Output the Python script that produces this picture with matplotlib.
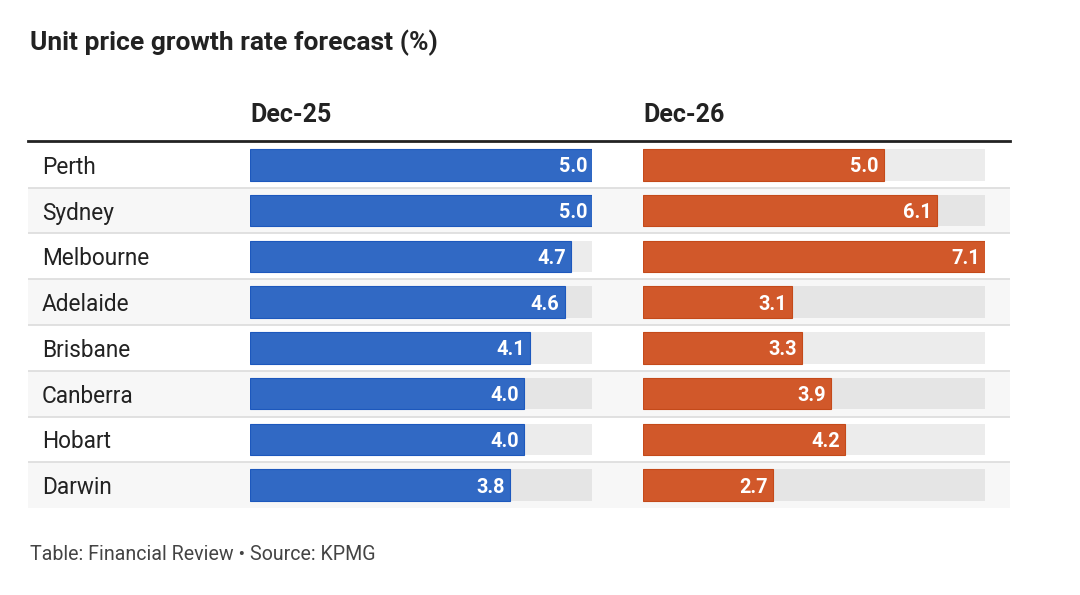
import matplotlib
matplotlib.use("Agg")
import matplotlib.pyplot as plt
from matplotlib.lines import Line2D

# ---- data ----
cities = ["Perth", "Sydney", "Melbourne", "Adelaide", "Brisbane", "Canberra", "Hobart", "Darwin"]
dec25 = [5.0, 5.0, 4.7, 4.6, 4.1, 4.0, 4.0, 3.8]
dec26 = [5.0, 6.1, 7.1, 3.1, 3.3, 3.9, 4.2, 2.7]
columns = ["Dec-25", "Dec-26"]
title = "Unit price growth rate forecast (%)"
footer = "Table: Financial Review \u2022 Source: KPMG"

plt.rcParams['font.family'] = ['Roboto', 'DejaVu Sans']

W, H = 1080, 595
fig = plt.figure(figsize=(W / 100, H / 100), dpi=100)
fig.patch.set_facecolor('white')


def rect(x0, y0, x1, y1):
    return [x0 / W, 1 - y1 / H, (x1 - x0) / W, (y1 - y0) / H]


top, bot = 142, 508
n = len(cities)
ys = list(range(n))
row_bg = ['white' if i % 2 == 0 else '#f7f7f7' for i in ys]
track_bg = ['#ececec' if i % 2 == 0 else '#e5e5e5' for i in ys]

# background rows
bg = fig.add_axes(rect(28, top, 1010, bot))
bg.set_xlim(0, 1)
bg.set_ylim(n - 0.5, -0.5)
bg.barh(ys, [1] * n, height=1.0, left=0, color=row_bg)
for i in range(1, n):
    bg.axhline(i - 0.5, color='#dcdcdc', lw=1.2)
bg.axis('off')
for i, c in enumerate(cities):
    bg.text(14 / 982, i, c, ha='left', va='center_baseline', fontsize=16.3, color='#222222')

# header rule
fig.add_artist(Line2D([28 / W, 1010 / W], [1 - 141 / H, 1 - 141 / H],
                      color='#222222', lw=2.0, transform=fig.transFigure))

specs = [
    (dec25, 250, '#3169c4', '#1d58bd', columns[0]),
    (dec26, 643, '#d1582a', '#c44a1a', columns[1]),
]
for vals, x0, color, edge, hdr in specs:
    ax = fig.add_axes(rect(x0, top, x0 + 342, bot))
    vmax = max(vals)
    ax.set_xlim(0, vmax)
    ax.set_ylim(n - 0.5, -0.5)
    ax.barh(ys, [vmax] * n, height=0.69, color=track_bg)
    ax.barh(ys, vals, height=0.69, color=color, edgecolor=edge, lw=0.8)
    pad = vmax * 5 / 342
    for i, v in enumerate(vals):
        ax.text(v - pad, i, f"{v:.1f}", ha='right', va='center_baseline', color='white',
                fontsize=14.3, fontweight='bold')
    ax.axis('off')
    fig.text(x0 / W, 1 - 112 / H, hdr, ha='left', va='center_baseline', fontsize=18,
             fontweight='bold', color='#222222')

fig.text(30 / W, 1 - 40 / H, title, ha='left', va='center_baseline', fontsize=19,
         fontweight='bold', color='#222222')
fig.text(30 / W, 1 - 552 / H, footer, ha='left', va='center_baseline', fontsize=14.1,
         color='#444444')

fig.savefig('out.png', dpi=100, facecolor='white')
